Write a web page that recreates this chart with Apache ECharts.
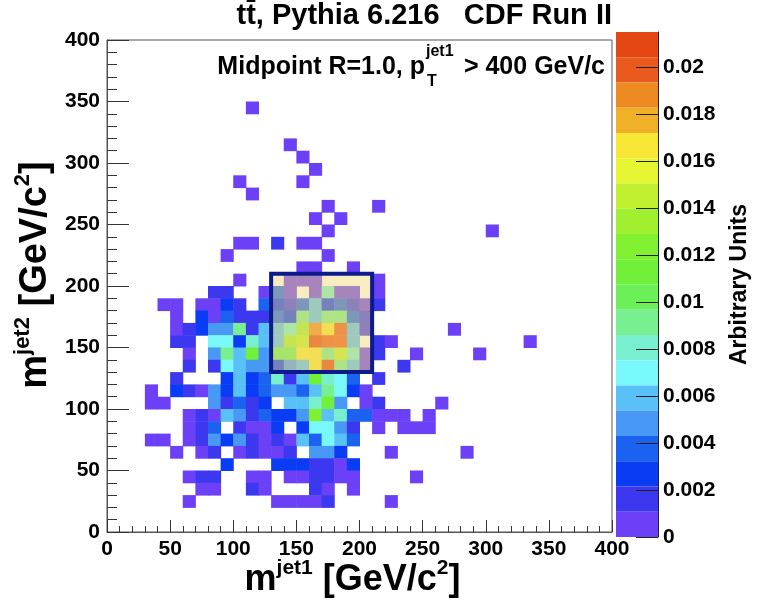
<!DOCTYPE html>
<html><head><meta charset="utf-8">
<script src="https://cdn.jsdelivr.net/npm/echarts@6/dist/echarts.min.js"></script>
<style>html,body{margin:0;padding:0;background:#fff}#c{width:759px;height:600px}</style>
</head><body><div id="c"></div>
<script>
// ---- data ----
const binWidth = 10;                       // GeV/c^2 per bin
const massTicks = [0, 50, 100, 150, 200, 250, 300, 350, 400];
const zMax = 0.0215;                       // top of colour scale
const palette = ['#6b40f6','#3b38f0','#0a3cf6','#1c62f0','#4898f6','#5ac0f8','#78f8fa','#78f0d0',
                 '#78f092','#6cf05a','#70f038','#80f030','#a0f030','#c0f030','#e6f632','#f8e634',
                 '#f0b028','#ee8a22','#ea5a1e','#e44614'];
const colorbarTicks = [0, 0.002, 0.004, 0.006, 0.008, 0.01, 0.012, 0.014, 0.016, 0.018, 0.02];
// [m_jet1 bin low edge, m_jet2 bin low edge, arbitrary units]
const cells = [
 [110,340,0.0005],
 [140,310,0.0005],[150,300,0.0005],[160,290,0.0005],
 [100,280,0.0005],[150,280,0.0005],[110,270,0.0005],
 [170,260,0.0005],[210,260,0.0005],[160,250,0.0005],[180,250,0.0005],
 [170,240,0.0005],[300,240,0.0005],
 [100,230,0.0005],[110,230,0.0005],[130,230,0.0016],[150,230,0.0005],[160,230,0.0005],
 [90,220,0.0005],[170,220,0.0005],
 [150,210,0.0005],[160,210,0.0005],[190,210,0.0005],
 [100,200,0.0005],[140,200,0.0005],[150,200,0.0005],[160,200,0.0005],[210,200,0.0005],
 [80,190,0.0016],[90,190,0.0016],[120,190,0.0005],[130,190,0.0038],[140,190,0.0005],[160,190,0.0005],
 [170,190,0.0081],[180,190,0.0005],[190,190,0.0005],[210,190,0.0005],
 [40,180,0.0005],[50,180,0.0005],[70,180,0.0005],[80,180,0.0005],[90,180,0.0027],[100,180,0.0016],
 [120,180,0.0038],[130,180,0.0027],[140,180,0.0016],[150,180,0.0038],[160,180,0.0059],[170,180,0.0027],
 [180,180,0.0038],[190,180,0.0016],[200,180,0.0005],[210,180,0.0016],
 [50,170,0.0005],[70,170,0.0027],[80,170,0.0005],[90,170,0.0038],[100,170,0.0016],[110,170,0.0016],
 [120,170,0.0016],[130,170,0.0038],[140,170,0.0027],[150,170,0.0091],[160,170,0.0059],[170,170,0.0091],
 [180,170,0.0091],[190,170,0.0038],[200,170,0.0016],
 [50,160,0.0005],[60,160,0.0016],[70,160,0.0027],[80,160,0.0048],[90,160,0.0048],[100,160,0.0091],
 [110,160,0.0016],[120,160,0.0059],[130,160,0.0059],[140,160,0.0081],[150,160,0.0134],[160,160,0.0188],
 [170,160,0.0167],[180,160,0.0199],[190,160,0.0059],[200,160,0.0016],[270,160,0.0005],
 [50,150,0.0016],[60,150,0.0016],[80,150,0.0070],[90,150,0.0070],[100,150,0.0027],[110,150,0.0081],
 [120,150,0.0059],[130,150,0.0059],[140,150,0.0134],[150,150,0.0145],[160,150,0.0210],[170,150,0.0199],
 [180,150,0.0199],[190,150,0.0059],[210,150,0.0016],[220,150,0.0005],[330,150,0.0005],
 [60,140,0.0005],[80,140,0.0048],[90,140,0.0091],[100,140,0.0059],[110,140,0.0113],[120,140,0.0048],
 [130,140,0.0102],[140,140,0.0102],[150,140,0.0167],[160,140,0.0167],[170,140,0.0091],[180,140,0.0145],
 [190,140,0.0081],[200,140,0.0005],[210,140,0.0016],[240,140,0.0005],[290,140,0.0005],
 [60,130,0.0016],[80,130,0.0016],[90,130,0.0070],[100,130,0.0059],[110,130,0.0048],[120,130,0.0048],
 [130,130,0.0027],[140,130,0.0048],[150,130,0.0059],[160,130,0.0167],[170,130,0.0210],[180,130,0.0091],
 [190,130,0.0059],[200,130,0.0005],[230,130,0.0016],
 [50,120,0.0016],[90,120,0.0027],[100,120,0.0059],[110,120,0.0027],[120,120,0.0038],[130,120,0.0081],
 [140,120,0.0016],[150,120,0.0059],[160,120,0.0113],[170,120,0.0081],[180,120,0.0070],[190,120,0.0038],
 [210,120,0.0016],
 [30,110,0.0005],[50,110,0.0027],[60,110,0.0016],[70,110,0.0005],[80,110,0.0048],[90,110,0.0027],
 [100,110,0.0059],[110,110,0.0027],[120,110,0.0038],[130,110,0.0048],[140,110,0.0048],[150,110,0.0038],
 [160,110,0.0059],[170,110,0.0091],[180,110,0.0070],[190,110,0.0027],[200,110,0.0005],
 [30,100,0.0005],[40,100,0.0005],[80,100,0.0048],[90,100,0.0016],[100,100,0.0038],[110,100,0.0016],
 [120,100,0.0027],[140,100,0.0059],[150,100,0.0059],[160,100,0.0081],[170,100,0.0113],[180,100,0.0048],
 [200,100,0.0005],[210,100,0.0016],[260,100,0.0005],
 [60,90,0.0005],[70,90,0.0016],[80,90,0.0005],[90,90,0.0059],[100,90,0.0048],[110,90,0.0016],
 [120,90,0.0038],[130,90,0.0027],[140,90,0.0027],[150,90,0.0048],[160,90,0.0124],[170,90,0.0059],
 [180,90,0.0081],[190,90,0.0038],[200,90,0.0038],[210,90,0.0005],[220,90,0.0005],[230,90,0.0005],
 [250,90,0.0005],
 [60,80,0.0005],[70,80,0.0016],[80,80,0.0038],[100,80,0.0016],[110,80,0.0005],[120,80,0.0005],
 [130,80,0.0027],[150,80,0.0027],[160,80,0.0070],[170,80,0.0070],[180,80,0.0048],[190,80,0.0016],
 [210,80,0.0005],[230,80,0.0005],[240,80,0.0005],[250,80,0.0005],
 [30,70,0.0005],[40,70,0.0005],[60,70,0.0005],[70,70,0.0016],[80,70,0.0048],[90,70,0.0027],
 [100,70,0.0048],[110,70,0.0016],[120,70,0.0005],[130,70,0.0016],[140,70,0.0005],[150,70,0.0059],
 [160,70,0.0038],[170,70,0.0070],[180,70,0.0059],[190,70,0.0038],
 [50,60,0.0005],[70,60,0.0005],[80,60,0.0016],[100,60,0.0005],[110,60,0.0016],[120,60,0.0005],
 [130,60,0.0005],[140,60,0.0016],[160,60,0.0048],[170,60,0.0048],[180,60,0.0027],[220,60,0.0005],
 [280,60,0.0005],
 [90,50,0.0027],[130,50,0.0027],[140,50,0.0027],[150,50,0.0027],[160,50,0.0016],[170,50,0.0016],
 [180,50,0.0005],[190,50,0.0027],
 [60,40,0.0005],[70,40,0.0016],[80,40,0.0016],[110,40,0.0005],[120,40,0.0005],[140,40,0.0005],
 [150,40,0.0005],[160,40,0.0016],[170,40,0.0016],[180,40,0.0005],[190,40,0.0005],[240,40,0.0005],
 [70,30,0.0005],[80,30,0.0005],[110,30,0.0016],[120,30,0.0005],[160,30,0.0016],[170,30,0.0005],
 [190,30,0.0005],
 [60,20,0.0005],[130,20,0.0005],[140,20,0.0005],[150,20,0.0005],[160,20,0.0005],[170,20,0.0016],
 [220,20,0.0005]
];
// highlighted mass window [x0, y0, x1, y1]
const massWindow = [[130, 130, 210, 210]];

// ---- chart ----
const FONT = '"Liberation Sans", Arial, Helvetica, sans-serif';
const nLevels = palette.length;
const step = zMax / nLevels;
const pieces = palette.map((c, k) => k === nLevels - 1
  ? { gte: k * step, lte: zMax, color: c }
  : { gte: k * step, lt: (k + 1) * step, color: c });

const G = { left: 107, top: 40, width: 505, height: 492 };
const CB = { left: 616, top: 32, width: 42, height: 505 };

const nameRich = {
  a: { fontFamily: FONT, fontWeight: 'bold', fontSize: 38, lineHeight: 42, color: '#000', verticalAlign: 'bottom' },
  b: { fontFamily: FONT, fontWeight: 'bold', fontSize: 22, lineHeight: 24, color: '#000', verticalAlign: 'top' }
};
const nameRichX = {
  a: Object.assign({}, nameRich.a, { fontSize: 36, lineHeight: 40 }),
  b: Object.assign({}, nameRich.b, { fontSize: 21, lineHeight: 23 })
};
const labelStyle = { fontFamily: FONT, fontWeight: 'bold', fontSize: 21, color: '#000' };

const chart = echarts.init(document.getElementById('c'), null, { renderer: 'canvas' });
chart.setOption({
  animation: false,
  backgroundColor: '#fff',
  grid: [
    Object.assign({ show: true, borderColor: '#555', borderWidth: 1, backgroundColor: 'transparent',
                    containLabel: false, outerBoundsMode: 'none' }, G),
    Object.assign({ show: false, containLabel: false, outerBoundsMode: 'none' }, CB)
  ],
  xAxis: [
    { type: 'value', gridIndex: 0, min: massTicks[0], max: massTicks[massTicks.length - 1], interval: 50,
      axisLine: { show: true, onZero: false, lineStyle: { color: '#555', width: 1 } },
      axisTick: { show: true, inside: true, length: 12, lineStyle: { color: '#333', width: 1 } },
      minorTick: { show: true, splitNumber: 5, length: 6, lineStyle: { color: '#333', width: 1 } },
      splitLine: { show: false }, minorSplitLine: { show: false },
      axisLabel: Object.assign({ margin: 7 }, labelStyle),
      name: '{a|m}{b|jet1}{a| [GeV/c}{b|2}{a|]}', nameLocation: 'middle', nameGap: 26, nameMoveOverlap: false,
      nameTextStyle: { rich: nameRichX, padding: [0, 14, 0, 0] } },
    { type: 'value', gridIndex: 1, show: false, min: 0, max: 1 }
  ],
  yAxis: [
    { type: 'value', gridIndex: 0, min: massTicks[0], max: massTicks[massTicks.length - 1], interval: 50,
      axisLine: { show: true, onZero: false, lineStyle: { color: '#555', width: 1 } },
      axisTick: { show: true, inside: true, length: 22, lineStyle: { color: '#333', width: 1 } },
      minorTick: { show: true, splitNumber: 5, length: 10, lineStyle: { color: '#333', width: 1 } },
      splitLine: { show: false }, minorSplitLine: { show: false },
      axisLabel: Object.assign({ margin: 7 }, labelStyle),
      name: '{a|m}{b|jet2}{a| [GeV/c}{b|2}{a|]}', nameLocation: 'middle', nameGap: 33,
      nameTextStyle: { rich: nameRich, padding: [0, 0, 0, 22] } },
    { type: 'value', gridIndex: 1, position: 'right', min: 0, max: zMax, z: 10,
      axisLine: { show: true, onZero: false, lineStyle: { color: '#222', width: 1 } },
      axisTick: { show: true, inside: true, length: 22, customValues: colorbarTicks, lineStyle: { color: '#222', width: 1 } },
      axisLabel: Object.assign({ margin: 5, customValues: colorbarTicks }, labelStyle),
      splitLine: { show: false },
      name: 'Arbitrary Units', nameLocation: 'middle', nameGap: 70,
      nameTextStyle: { fontFamily: FONT, fontWeight: 'bold', fontSize: 23, color: '#000' } }
  ],
  visualMap: {
    type: 'piecewise', seriesIndex: 0, dimension: 2, orient: 'vertical', z: 2,
    left: CB.left, top: CB.top, padding: 0, itemWidth: CB.width, itemHeight: CB.height / nLevels,
    itemGap: 0, itemSymbol: 'rect', showLabel: false, selectedMode: false, hoverLink: false,
    pieces: pieces, textStyle: { fontSize: 0 }
  },
  title: {
    text: 'tt\u0304, Pythia 6.216   CDF Run II', right: 147, top: 1, padding: 0,
    textStyle: { fontFamily: FONT, fontWeight: 'bold', fontSize: 29, color: '#000' }
  },
  graphic: [
    { type: 'text', z: 100, style: { text: 'Midpoint R=1.0, p', x: 425, y: 80, textAlign: 'right', textVerticalAlign: 'bottom',
      font: 'bold 25px ' + FONT, fill: '#000' } },
    { type: 'text', z: 100, style: { text: 'jet1', x: 426, y: 60, textAlign: 'left', textVerticalAlign: 'bottom',
      font: 'bold 16px ' + FONT, fill: '#000' } },
    { type: 'text', z: 100, style: { text: 'T', x: 427, y: 90, textAlign: 'left', textVerticalAlign: 'bottom',
      font: 'bold 16px ' + FONT, fill: '#000' } },
    { type: 'text', z: 100, style: { text: '> 400 GeV/c', x: 605, y: 80, textAlign: 'right', textVerticalAlign: 'bottom',
      font: 'bold 25px ' + FONT, fill: '#000' } }
  ],
  series: [
    { type: 'custom', xAxisIndex: 0, yAxisIndex: 0, data: cells, encode: { x: 0, y: 1 }, clip: true,
      renderItem: function (params, api) {
        const x = api.value(0), y = api.value(1);
        const p0 = api.coord([x, y + binWidth]);
        const p1 = api.coord([x + binWidth, y]);
        return { type: 'rect',
          shape: { x: p0[0], y: p0[1], width: p1[0] - p0[0] + 0.5, height: p1[1] - p0[1] + 0.5 },
          style: { fill: api.visual('color') } };
      } },
    { type: 'custom', xAxisIndex: 0, yAxisIndex: 0, data: massWindow, encode: { x: [0, 2], y: [1, 3] }, z: 5,
      renderItem: function (params, api) {
        const p0 = api.coord([api.value(0), api.value(3)]);
        const p1 = api.coord([api.value(2), api.value(1)]);
        return { type: 'rect',
          shape: { x: p0[0], y: p0[1], width: p1[0] - p0[0], height: p1[1] - p0[1] },
          style: { fill: 'rgba(240,214,119,0.46)', stroke: '#0c1a8c', lineWidth: 4 } };
      } }
  ]
});
</script></body></html>
